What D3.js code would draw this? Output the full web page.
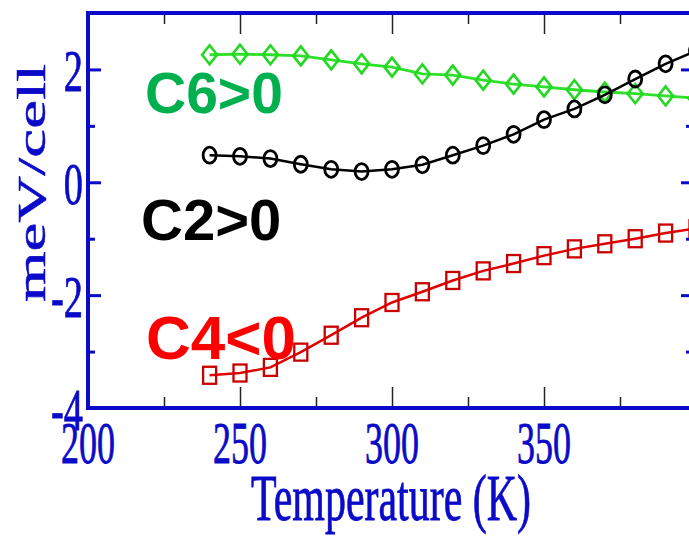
<!DOCTYPE html>
<html><head><meta charset="utf-8">
<script src="https://cdn.jsdelivr.net/npm/d3@7"></script>
<style>body{margin:0;background:#fff;} svg{display:block;}</style>
</head><body>
<svg id="c" width="689" height="536"></svg>
<script>
const temperature = [240,250,260,270,280,290,300,310,320,330,340,350,360,370,380,390,400];
const c6 = [2.26,2.27,2.26,2.24,2.17,2.10,2.04,1.92,1.90,1.81,1.74,1.69,1.64,1.60,1.57,1.53,1.49];
const c2 = [0.48,0.46,0.42,0.32,0.23,0.19,0.23,0.31,0.48,0.65,0.85,1.11,1.30,1.55,1.83,2.10,2.33];
const c4 = [-3.42,-3.38,-3.28,-3.01,-2.71,-2.40,-2.13,-1.94,-1.74,-1.57,-1.44,-1.30,-1.18,-1.09,-1.00,-0.90,-0.82];
const xTicks = [200,250,300,350,400];
const xTickLabels = [200,250,300,350];
const xMinor = [225,275,325,375];
const yTicks = [-4,-2,0,2];
const yMinor = [-3,-1,1,3];
const labels = [
  {text:"C6>0", color:"#00b04f", x:145, y:113, size:57},
  {text:"C2>0", color:"#000000", x:141, y:240, size:58},
  {text:"C4<0", color:"#ff0000", x:146, y:359, size:62}
];

const svg = d3.select("#c");
const x = d3.scaleLinear().domain([200,400]).range([88,696]);
const y = d3.scaleLinear().domain([-4,3]).range([408,13]);
const BLUE = "#0a0ac8";
const SX = 0.6;

function ticks(tr, axis, vals, size, color, w){
  const g = svg.append("g").attr("transform",tr).call(axis.tickValues(vals).tickSize(size).tickFormat(""));
  g.select(".domain").remove();
  g.selectAll("line").attr("stroke",color).attr("stroke-width",w);
}
ticks("translate(88,0)", d3.axisRight(y), yTicks, 13, BLUE, 3);
ticks("translate(88,0)", d3.axisRight(y), yMinor, 7, BLUE, 3);
ticks("translate(696,0)", d3.axisLeft(y), yTicks, 15, BLUE, 3);
ticks("translate(696,0)", d3.axisLeft(y), yMinor, 10, BLUE, 3);
ticks("translate(0,408)", d3.axisTop(x), xTicks, 21, "#222", 1.5);
ticks("translate(0,408)", d3.axisTop(x), xMinor, 11, "#222", 1.5);
ticks("translate(0,13)", d3.axisBottom(x), xTicks, 21, "#222", 1.5);
ticks("translate(0,13)", d3.axisBottom(x), xMinor, 11, "#222", 1.5);

// frame
svg.append("rect").attr("x",x(200)).attr("y",y(3)).attr("width",x(400)-x(200)).attr("height",y(-4)-y(3))
  .attr("fill","none").attr("stroke",BLUE).attr("stroke-width",4);

// series
const series = [
  {vals:c6, color:"#2ee02a", mk:"#22d822", shape:"diamond", w:2.8},
  {vals:c2, color:"#000000", mk:"#000000", shape:"circle", w:2.5},
  {vals:c4, color:"#e00000", mk:"#c80000", shape:"square", w:2.5}
];
const line = d3.line().x((d,i)=>x(temperature[i])).y(d=>y(d));
series.forEach(s=>{
  svg.append("path").datum(s.vals).attr("d",line).attr("fill","none").attr("stroke",s.color).attr("stroke-width",s.w);
  const g = svg.append("g");
  s.vals.forEach((v,i)=>{
    const cx = x(temperature[i]), cy = y(v);
    if(s.shape==="diamond"){
      g.append("path").attr("d",`M${cx},${cy-9.5}L${cx+7.5},${cy}L${cx},${cy+9.5}L${cx-7.5},${cy}Z`)
        .attr("fill","none").attr("stroke",s.mk).attr("stroke-width",2.6);
    } else if(s.shape==="circle"){
      g.append("ellipse").attr("cx",cx).attr("cy",cy).attr("rx",6.5).attr("ry",8)
        .attr("fill","none").attr("stroke",s.mk).attr("stroke-width",2.8);
    } else {
      g.append("rect").attr("x",cx-6.5).attr("y",cy-8.5).attr("width",13).attr("height",17)
        .attr("fill","none").attr("stroke",s.mk).attr("stroke-width",2.3);
    }
  });
});

// tick labels
const serif = "'Liberation Serif','DejaVu Serif',serif";
xTickLabels.forEach(t=>{
  svg.append("text").attr("transform",`translate(${x(t)},463) scale(${SX},1)`)
    .attr("text-anchor","middle").attr("font-family",serif).attr("font-size",60).attr("fill",BLUE)
    .attr("stroke",BLUE).attr("stroke-width",0.8).text(t);
});
yTicks.forEach(t=>{
  svg.append("text").attr("transform",`translate(83,${y(t)+22}) scale(0.64,1)`)
    .attr("text-anchor","end").attr("font-family",serif).attr("font-size",60).attr("fill",BLUE)
    .attr("stroke",BLUE).attr("stroke-width",0.8).text(t);
});
// axis titles
svg.append("text").attr("transform",`translate(391,520) scale(0.645,1)`)
  .attr("text-anchor","middle").attr("font-family",serif).attr("font-size",65).attr("fill",BLUE)
  .attr("stroke",BLUE).attr("stroke-width",0.8).text("Temperature (K)");
svg.append("text").attr("transform",`translate(45,183) scale(0.63,1) rotate(-90)`)
  .attr("text-anchor","middle").attr("font-family",serif).attr("font-size",65).attr("fill",BLUE)
  .attr("stroke",BLUE).attr("stroke-width",0.8).text("meV/cell");

// annotations
labels.forEach(l=>{
  svg.append("text").attr("x",l.x).attr("y",l.y).attr("font-family","'Liberation Sans',Arial,sans-serif")
    .attr("font-weight","bold").attr("font-size",l.size).attr("fill",l.color).text(l.text);
});
</script>
</body></html>
